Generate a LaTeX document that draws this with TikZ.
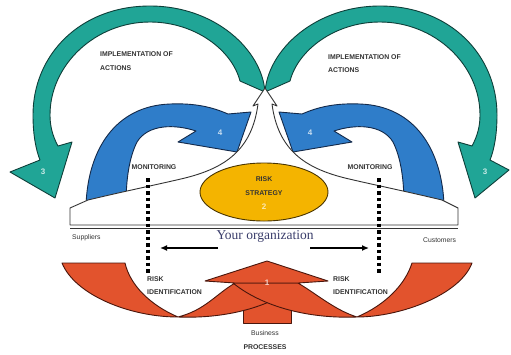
\documentclass[tikz,border=0pt]{standalone}
\usepackage{fontspec}
\setmainfont{Liberation Serif}
\setsansfont{Liberation Sans}
\usetikzlibrary{arrows.meta,shapes.geometric}
\definecolor{tealfill}{HTML}{20A596}
\definecolor{tealedge}{HTML}{0E3F39}
\definecolor{bluefill}{HTML}{2F7DC9}
\definecolor{blueedge}{HTML}{142A4A}
\definecolor{redfill}{HTML}{E2532D}
\definecolor{rededge}{HTML}{4A160C}
\definecolor{ellfill}{HTML}{F4B400}
\definecolor{elledge}{HTML}{4A3500}
\definecolor{orgtext}{HTML}{3A3D6B}
\definecolor{lbltext}{HTML}{333333}
\begin{document}
\begin{tikzpicture}[x=1pt,y=-1pt,
  outline/.style={line width=0.9pt, line join=round},
  tealshape/.style={outline, fill=tealfill, draw=tealedge},
  blueshape/.style={outline, fill=bluefill, draw=blueedge},
  redshape/.style={outline, fill=redfill, draw=rededge},
  whiteshape/.style={outline, fill=white, draw=black!80},
  lbl/.style={font=\sffamily\bfseries\fontsize{6.9}{8}\selectfont, text=lbltext, inner sep=0pt, anchor=west},
  smalllbl/.style={font=\sffamily\fontsize{6.8}{8}\selectfont, text=lbltext, inner sep=0pt},
  num/.style={font=\sffamily\bfseries\fontsize{8}{9}\selectfont, inner sep=0pt},
  dotline/.style={line width=3.5pt, dash pattern=on 3.5pt off 3pt, black},
  orgarrow/.style={-{Latex[length=7pt,width=6pt]}, line width=1.3pt, black}]
\useasboundingbox (0,0) rectangle (511,354);
\fill[white] (0,0) rectangle (511,354);

% teal arcs
\path[tealshape] (265,92) .. controls (262,50) and (215,6) .. (150,6)
  .. controls (80,6) and (33,55) .. (33,115)
  .. controls (33,135) and (36,150) .. (40,160)
  -- (10,172) -- (55,198) -- (72,142) -- (58,146)
  .. controls (52,135) and (50,125) .. (50,115)
  .. controls (50,65) and (95,22) .. (150,22)
  .. controls (195,22) and (232,50) .. (240,81) -- cycle;
\path[tealshape] (265,92) .. controls (268,50) and (315,6) .. (380,6)
  .. controls (450,6) and (497,55) .. (497,115)
  .. controls (497,135) and (494,150) .. (490,160)
  -- (509,170) -- (475,198) -- (458,142) -- (472,146)
  .. controls (478,135) and (480,125) .. (480,115)
  .. controls (480,65) and (435,22) .. (380,22)
  .. controls (335,22) and (298,50) .. (290,81) -- cycle;

% blue arrows
\path[blueshape] (86,205) .. controls (88,150) and (115,106) .. (170,104)
  .. controls (195,103) and (212,107) .. (228,114)
  -- (251,112) -- (237,152) -- (178,142) -- (196,131)
  .. controls (175,124) and (148,124) .. (137,142)
  .. controls (129,158) and (126,180) .. (126,205) -- cycle;
\path[blueshape] (444,205) .. controls (442,150) and (415,106) .. (360,104)
  .. controls (335,103) and (318,107) .. (302,114)
  -- (279,112) -- (293,152) -- (352,142) -- (334,131)
  .. controls (355,124) and (382,124) .. (393,142)
  .. controls (401,158) and (404,180) .. (404,205) -- cycle;

% white platform and central arrow
\path[whiteshape] (70,225) -- (70,208) -- (88,200)
  .. controls (130,190) and (160,184) .. (185,178)
  .. controls (225,168) and (252,150) .. (258,104)
  -- (253,106) -- (265,88) -- (277,106) -- (272,104)
  .. controls (278,150) and (305,168) .. (345,178)
  .. controls (370,184) and (400,190) .. (442,200)
  -- (458,208) -- (458,225) -- cycle;
\draw[line width=0.9pt, black!80] (70,228) -- (458,228);

% strategy ellipse
\node[ellipse, draw=elledge, fill=ellfill, line width=0.9pt, minimum width=128pt, minimum height=58pt, inner sep=0pt] (strategy) at (264,192) {};
\node[lbl, anchor=center] (riskA) at (264,179) {RISK};
\node[lbl, anchor=center] (stratA) at (264,193) {STRATEGY};
\node[num, text=ellfill!30!white] (n2) at (264,207) {2};

% red bottom arrows
\draw[redshape] (243,300) rectangle (291,323);
\path[redshape] (62,263) -- (125,263)
  .. controls (130,285) and (150,305) .. (178,317)
  .. controls (205,310) and (215,295) .. (235,283)
  -- (300,283)
  .. controls (275,305) and (230,319) .. (178,317)
  .. controls (130,317) and (75,295) .. (62,263) -- cycle;
\path[redshape] (472,263) -- (412,263)
  .. controls (405,285) and (385,305) .. (357,317)
  .. controls (335,310) and (318,295) .. (298,283)
  -- (233,283)
  .. controls (260,305) and (305,319) .. (357,317)
  .. controls (400,317) and (460,295) .. (472,263) -- cycle;
\path[redshape] (205,281) -- (267,261) -- (328,281) -- (298,283) -- (235,283) -- cycle;

% numbers
\node[num, text=tealfill!25!white] (n3l) at (43,172) {3};
\node[num, text=tealfill!25!white] (n3r) at (485,172) {3};
\node[num, text=bluefill!25!white] (n4l) at (220,133) {4};
\node[num, text=bluefill!25!white] (n4r) at (310,133) {4};
\node[num, text=redfill!25!white] (n1) at (267,283) {1};

% dotted monitoring lines
\coordinate (dlt) at (148,178); \coordinate (dlb) at (148,273);
\coordinate (drt) at (379,178); \coordinate (drb) at (379,273);
\draw[dotline] (dlt) -- (dlb);
\draw[dotline] (drt) -- (drb);

% organization arrows
\coordinate (oal) at (218,248); \coordinate (oalt) at (160,248);
\coordinate (oar) at (310,248); \coordinate (oart) at (369,248);
\draw[orgarrow] (oal) -- (oalt);
\draw[orgarrow] (oar) -- (oart);
\node[font=\fontsize{13.5}{15}\selectfont, text=orgtext, inner sep=0pt] (org) at (265,236) {Your organization};

% labels
\node[lbl] (impl1) at (100,54) {IMPLEMENTATION OF};
\node[lbl] (impl2) at (100,68) {ACTIONS};
\node[lbl] (impr1) at (328,57) {IMPLEMENTATION OF};
\node[lbl] (impr2) at (328,70) {ACTIONS};
\node[lbl, anchor=center] (monl) at (154,167) {MONITORING};
\node[lbl, anchor=center] (monr) at (370,167) {MONITORING};
\node[smalllbl, anchor=west] (supp) at (72,238) {Suppliers};
\node[smalllbl, anchor=west] (cust) at (423,240) {Customers};
\node[lbl] (riskl1) at (147,279) {RISK};
\node[lbl] (riskl2) at (147,292) {IDENTIFICATION};
\node[lbl] (riskr1) at (333,279) {RISK};
\node[lbl] (riskr2) at (333,292) {IDENTIFICATION};
\node[smalllbl, anchor=center] (bus1) at (265,333) {Business};
\node[lbl, anchor=center] (bus2) at (265,347) {PROCESSES};
\end{tikzpicture}
\end{document}
